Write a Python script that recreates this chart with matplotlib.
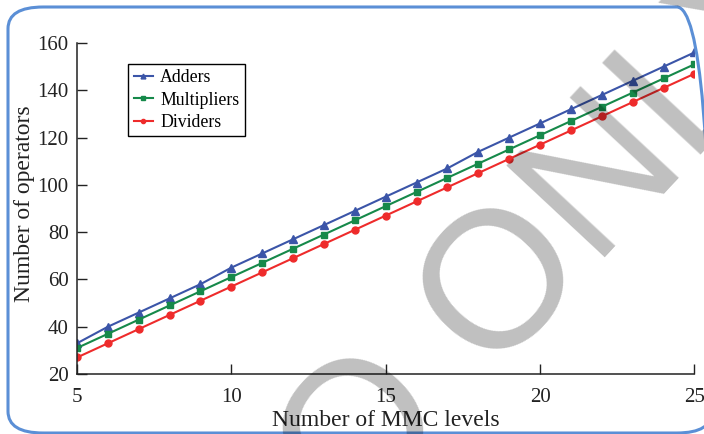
import numpy as np
import matplotlib.pyplot as plt
from matplotlib.patches import FancyBboxPatch

plt.rcParams['font.family'] = ['Liberation Serif', 'DejaVu Serif']

levels = list(range(5, 26))
adders = [33, 40, 46, 52, 58, 65, 71, 77, 83, 89, 95, 101, 107, 114, 120, 126, 132, 138, 144, 150, 156]
multipliers = [31, 37, 43, 49, 55, 61, 67, 73, 79, 85, 91, 97, 103, 109, 115, 121, 127, 133, 139, 145, 151]
dividers = [27, 33, 39, 45, 51, 57, 63, 69, 75, 81, 87, 93, 99, 105, 111, 117, 123, 129, 135, 141, 147]

fig = plt.figure(figsize=(7.04, 4.34), dpi=100)
ax = fig.add_axes([0.1094, 0.1382, 0.8770, 0.7627])

l_w = 1.5
m_s = 5
ax.plot(levels, adders, color='#3b55a8', marker='^', label='Adders', linewidth=l_w, markersize=m_s + 0.8)
ax.plot(levels, multipliers, color='#16894a', marker='s', label='Multipliers', linewidth=l_w, markersize=m_s)
ax.plot(levels, dividers, color='#ee2b2b', marker='o', label='Dividers', linewidth=l_w, markersize=m_s)

ax.set_xlim(5, 25)
ax.set_ylim(20, 160)
ax.set_xticks([5, 10, 15, 20, 25])
ax.set_yticks(np.arange(20, 161, 20))
ax.tick_params(direction='in', length=7, width=1, labelsize=15, pad=6, colors='#222222')
ax.tick_params(axis='x', pad=10)
for s in ['top', 'right']:
    ax.spines[s].set_visible(False)
for s in ['left', 'bottom']:
    ax.spines[s].set_linewidth(1.1)
    ax.spines[s].set_color('#222222')

ax.set_xlabel('Number of MMC levels', fontsize=17, labelpad=2, color='#222222')
ax.set_ylabel('Number of operators', fontsize=17, color='#222222')
ax.yaxis.set_label_coords(-0.068, 0.515)

leg = ax.legend(loc='upper left', bbox_to_anchor=(0.083, 0.937), fontsize=12.8, fancybox=False,
                handlelength=1.1, handletextpad=0.4, borderpad=0.3, labelspacing=0.3,
                borderaxespad=0, markerscale=0.6)
leg.get_frame().set_edgecolor('black')
leg.get_frame().set_linewidth(1.0)
leg.get_frame().set_alpha(1)

# rounded outer frame
W, H = 704, 434
frame = FancyBboxPatch((8 / W, 1 - 433 / H), (712 - 8) / W, (433 - 7) / H,
                       boxstyle='round,pad=0,rounding_size=0.05', transform=fig.transFigure,
                       facecolor='none', edgecolor='#5b8fd6', linewidth=2.2, clip_on=False)
fig.patches.append(frame)

# watermark
fig.text(0.586, 0.102, 'DEMO ONLY', fontsize=140, family='Liberation Sans', color='black', alpha=0.25,
         rotation=47, rotation_mode='anchor', ha='center', va='center', zorder=10)

plt.savefig('out.png', dpi=100)
